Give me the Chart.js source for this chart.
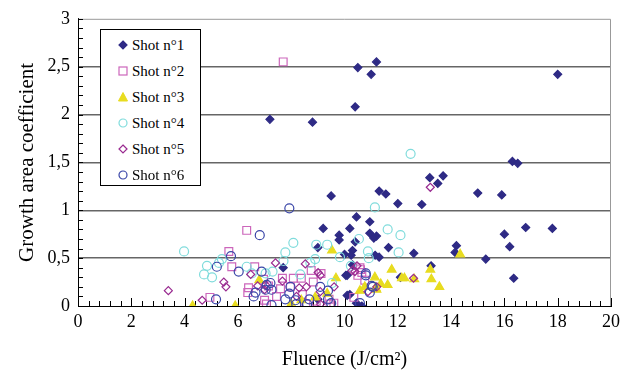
<!DOCTYPE html>
<html>
<head>
<meta charset="utf-8">
<script src="https://cdn.jsdelivr.net/npm/chart.js@4.4.1/dist/chart.umd.min.js"></script>
<style>
  body { margin: 0; background: #fff; }
  #wrap { position: relative; width: 625px; height: 378px; }
  #legend {
    position: absolute; left: 100px; top: 29px; width: 101px; height: 157px;
    box-sizing: border-box; border: 1px solid #000; background: #fff;
    font-family: "Liberation Serif", "Times New Roman", serif; font-size: 15px;
    padding-top: 2px;
  }
  #legend div { height: 26px; line-height: 26px; position: relative; padding-left: 31px; white-space: nowrap; }
  #legend svg { position: absolute; left: 16px; top: 7px; }
</style>
</head>
<body>
<div id="wrap">
  <canvas id="growthChart" width="625" height="378"></canvas>
  <div id="legend"></div>
</div>
<script>
// values, [fluence, growth coefficient]
const shot1 = [[7.2,1.95],[8.8,1.92],[10.4,2.08],[10.5,2.49],[11.0,2.42],[11.2,2.55],[18.0,2.42],
  [16.3,1.51],[16.5,1.49],[13.2,1.34],[13.5,1.28],[13.7,1.36],[15.0,1.18],[15.9,1.16],[12.9,1.06],
  [16.8,0.82],[17.8,0.81],[16.0,0.75],[16.2,0.62],[14.2,0.63],[14.15,0.56],[15.3,0.49],[16.35,0.29],[13.25,0.42],
  [11.3,1.20],[11.55,1.17],[12.0,1.07],[10.45,0.93],[10.95,0.88],[10.2,0.81],[10.95,0.76],[11.2,0.73],[11.1,0.71],
  [10.4,0.67],[11.65,0.61],[10.3,0.58],[10.0,0.54],[10.25,0.53],[11.15,0.53],[11.3,0.51],[12.6,0.55],
  [10.1,0.32],[12.1,0.30],[10.2,0.12],[10.65,0.0],[9.5,1.15],[9.2,0.81],[9.8,0.74],[9.8,0.69],[9.0,0.61],
  [7.7,0.40],[10.05,0.32],[10.3,0.43],[10.45,0.03],[10.1,0.11],[9.0,0.07]];
const shot2 = [[7.7,2.55],[6.33,0.79],[5.66,0.57],[5.77,0.41],[6.63,0.41],[6.96,0.28],[6.4,0.19],[6.37,0.14],
  [4.95,0.09],[7.0,0.06],[7.45,0.10],[8.75,0.37],[8.83,0.25],[8.38,0.29],[8.42,0.12],[7.67,0.29],[8.08,0.29],
  [7.6,0.18],[7.97,0.20],[7.15,0.21],[9.42,0.07],[9.46,0.02],[8.94,0.05],[10.35,0.09],[10.58,0.40],[10.5,0.32],
  [10.65,0.35],[9.12,0.34],[10.6,0.38],[10.76,0.27],[8.55,0.02],[9.6,0.03],[7.07,0.02]];
const shot3 = [[4.3,0.0],[5.9,0.0],[6.8,0.27],[9.53,0.58],[9.68,0.29],[11.77,0.38],[13.22,0.38],[13.26,0.28],
  [12.25,0.29],[12.15,0.29],[11.62,0.22],[11.14,0.30],[11.36,0.23],[11.17,0.19],[10.58,0.16],[10.76,0.20],
  [8.9,0.09],[9.35,0.13],[8.38,0.06],[7.97,0.0],[12.62,0.28],[11.2,0.17],[14.34,0.54],[13.56,0.20],[8.0,0.02]];
const shot4 = [[12.48,1.59],[11.14,1.03],[11.62,0.80],[12.1,0.74],[10.54,0.70],[10.88,0.57],[12.03,0.56],
  [10.91,0.50],[9.83,0.51],[10.24,0.42],[8.08,0.66],[8.94,0.64],[9.35,0.64],[7.78,0.56],[8.9,0.49],[8.72,0.45],
  [7.71,0.47],[7.3,0.36],[8.34,0.33],[9.53,0.24],[3.98,0.57],[4.84,0.42],[4.73,0.33],[5.03,0.30],[5.4,0.49],
  [5.29,0.45],[6.33,0.41],[6.52,0.34],[7.04,0.34]];
const shot5 = [[13.22,1.24],[3.39,0.16],[4.66,0.06],[5.47,0.25],[5.55,0.20],[6.48,0.33],[6.74,0.21],[7.0,0.17],
  [7.41,0.45],[8.53,0.44],[7.67,0.26],[7.04,0.22],[9.01,0.35],[9.09,0.32],[8.3,0.19],[8.57,0.20],[9.61,0.20],
  [9.09,0.15],[10.47,0.42],[10.28,0.37],[10.88,0.15],[11.21,0.20],[12.59,0.29],[10.39,0.36],[9.1,0.02],[8.2,0.10]];
const shot6 = [[7.93,1.02],[6.82,0.74],[5.74,0.52],[5.21,0.41],[6.03,0.36],[6.89,0.36],[5.18,0.07],[6.59,0.10],
  [6.66,0.14],[7.04,0.17],[7.08,0.22],[7.22,0.24],[7.26,0.17],[7.26,0.01],[7.97,0.20],[7.93,0.13],[7.78,0.07],
  [8.16,0.06],[8.68,0.07],[9.09,0.20],[9.38,0.16],[9.38,0.07],[10.8,0.32],[11.06,0.20],[10.95,0.14],[8.19,0.02],
  [10.8,0.34],[11.02,0.21],[10.58,0.03],[8.6,0.02],[9.5,0.03]];

const seriesNames = ['Shot n°1', 'Shot n°2', 'Shot n°3', 'Shot n°4', 'Shot n°5', 'Shot n°6'];
const yTicks = [0, 0.5, 1, 1.5, 2, 2.5, 3];

const serif = '"Liberation Serif", "Times New Roman", serif';

// marker looks per series
const looks = [
  { shape: 'rectRot', color: '#2e2a85', fill: true, r: 4 },
  { shape: 'rect', color: '#cc66bb', fill: false, r: 5.5 },
  { shape: 'triangle', color: '#e8dc20', fill: true, r: 5 },
  { shape: 'circle', color: '#80dcdc', fill: false, r: 4.5 },
  { shape: 'rectRot', color: '#992a90', fill: false, r: 4 },
  { shape: 'circle', color: '#3a46a8', fill: false, r: 4.5 }
];

const allShots = [shot1, shot2, shot3, shot4, shot5, shot6];
const datasets = allShots.map((pts, i) => ({
  label: seriesNames[i],
  data: pts.map(p => ({ x: p[0], y: p[1] })),
  pointStyle: looks[i].shape,
  pointRadius: looks[i].r,
  pointBorderWidth: 1.2,
  borderColor: looks[i].color,
  backgroundColor: looks[i].fill ? looks[i].color : 'rgba(0,0,0,0)',
  order: 6 - i
}));

// frame on top/right and small tick marks inside the plot
const frame = {
  id: 'frame',
  beforeDatasetsDraw(chart) {
    const { ctx, chartArea: a, scales } = chart;
    ctx.save();
    ctx.strokeStyle = '#999';
    ctx.lineWidth = 1;
    ctx.beginPath();
    ctx.moveTo(a.left, a.top + 0.5); ctx.lineTo(a.right - 0.5, a.top + 0.5); ctx.lineTo(a.right - 0.5, a.bottom);
    ctx.stroke();
    ctx.strokeStyle = '#000';
    ctx.beginPath();
    for (let v = 0; v <= 30; v++) {
      const y = Math.round(scales.y.getPixelForValue(v / 10)) + 0.5;
      ctx.moveTo(a.left, y); ctx.lineTo(a.left + 5, y);
    }
    for (let v = 0; v <= 50; v++) {
      const x = Math.round(scales.x.getPixelForValue(v * 0.4)) + 0.5;
      const len = v % 5 === 0 ? 8 : 5;
      ctx.moveTo(x, a.bottom); ctx.lineTo(x, a.bottom - len);
    }
    ctx.stroke();
    ctx.restore();
  }
};

new Chart(document.getElementById('growthChart'), {
  type: 'scatter',
  data: { datasets },
  options: {
    responsive: false,
    animation: false,
    layout: { padding: { top: 17, right: 10, left: 0, bottom: 0 } },
    plugins: { legend: { display: false }, tooltip: { enabled: false } },
    scales: {
      x: {
        type: 'linear', min: 0, max: 20,
        ticks: { stepSize: 2, padding: 5, color: '#000', font: { family: serif, size: 18 } },
        grid: { display: false, drawTicks: false },
        border: { color: '#000', width: 1 },
        title: { display: true, text: 'Fluence (J/cm²)', color: '#000', font: { family: serif, size: 20 }, padding: { top: 0, bottom: 6 } },
        afterFit(s) { s.height = 72; }
      },
      y: {
        type: 'linear', min: 0, max: 3,
        afterBuildTicks(s) { s.ticks = yTicks.map(v => ({ value: v })); },
        ticks: {
          padding: 8, color: '#000', font: { family: serif, size: 18 },
          callback: v => String(v).replace('.', ',')
        },
        grid: {
          drawTicks: false,
          color: c => (c.tick && c.tick.value > 0 && c.tick.value < 3) ? '#666' : 'rgba(0,0,0,0)',
          lineWidth: 1.5
        },
        border: { color: '#000', width: 1 },
        title: { display: true, text: 'Growth area coefficient', color: '#000', font: { family: serif, size: 21 }, padding: { top: 15, bottom: 0 } },
        afterFit(s) { s.width = 78; }
      }
    }
  },
  plugins: [frame]
});

// legend box inside the plot
const legend = document.getElementById('legend');
looks.forEach((lk, i) => {
  const row = document.createElement('div');
  let mark;
  const stroke = lk.color, fill = lk.fill ? lk.color : 'none';
  if (lk.shape === 'rectRot') mark = `<polygon points="6,2 10,6 6,10 2,6" fill="${fill}" stroke="${stroke}" stroke-width="1.2"/>`;
  else if (lk.shape === 'rect') mark = `<rect x="2" y="2" width="8" height="8" fill="${fill}" stroke="${stroke}" stroke-width="1.2"/>`;
  else if (lk.shape === 'triangle') mark = `<polygon points="6,1.5 10.5,10 1.5,10" fill="${fill}" stroke="${stroke}" stroke-width="1"/>`;
  else mark = `<circle cx="6" cy="6" r="4" fill="${fill}" stroke="${stroke}" stroke-width="1.2"/>`;
  row.innerHTML = `<svg width="12" height="12">${mark}</svg>${seriesNames[i]}`;
  legend.appendChild(row);
});
</script>
</body>
</html>
